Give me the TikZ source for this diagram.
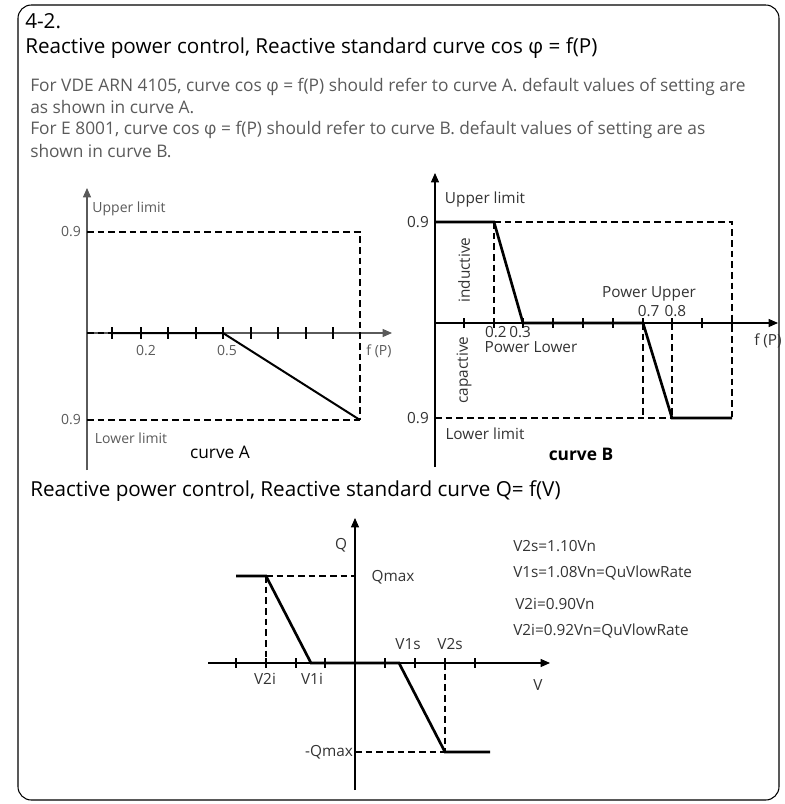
\documentclass[tikz,border=0pt]{standalone}
\usepackage{fontspec}
\setmainfont{Open Sans}
\usetikzlibrary{arrows.meta}
\definecolor{gr}{RGB}{90,90,90}
\begin{document}
\begin{tikzpicture}[x=0.75pt,y=-0.75pt,
 ax/.style={line width=0.8pt,-{Triangle[length=7pt,width=6pt]}},
 dsh/.style={dashed,line width=1pt,dash pattern=on 5pt off 3pt},
 crv/.style={line width=2pt},
 lab/.style={font=\fontsize{10.5}{12}\selectfont,text=gr,inner sep=0pt},
 labb/.style={font=\fontsize{11.5}{13}\selectfont,text=black!80,inner sep=0pt},
 big/.style={font=\fontsize{15.5}{18}\selectfont,inner sep=0pt,anchor=west},
 txt/.style={font=\fontsize{13}{15}\selectfont,text=gr,inner sep=0pt,anchor=west}]
\useasboundingbox (0,0) rectangle (785,804);
\draw[line width=0.8pt,rounded corners=10pt] (18,5) rectangle (779,800);
\node[big] (t0) at (25,21) {4-2.};
\node[big] (t1) at (25,48) {Reactive power control, Reactive standard curve cos φ = f(P)};
\node[txt] (p1) at (30,87) {For VDE ARN 4105, curve cos φ = f(P) should refer to curve A. default values of setting are};
\node[txt] (p2) at (30,107) {as shown in curve A.};
\node[txt] (p3) at (30,130) {For E 8001, curve cos φ = f(P) should refer to curve B. default values of setting are as};
\node[txt] (p4) at (30,151) {shown in curve B.};
% curve A
\draw[ax,gr] (87,470) -- (87,188);
\draw[ax,gr] (87,333) -- (392,333);
\foreach \x in {112,141,168,196,223,251,278,306,333} \draw[line width=0.8pt] (\x,327) -- (\x,339);
\draw[dsh] (87,232) -- (360,232) -- (360,420);
\draw[dsh] (87,420) -- (360,420);
\draw[dsh] (87,333) -- (112,333);
\draw[line width=1.5pt] (112,333) -- (223,333) -- (360,420);
\node[lab] (a1) at (129,209) {Upper limit};
\node[lab] (a2) at (71,232) {0.9};
\node[lab] (a3) at (71,420) {0.9};
\node[lab] (a4) at (146,351) {0.2};
\node[lab] (a5) at (227,351) {0.5};
\node[lab] (a6) at (379,351) {f (P)};
\node[lab] (a7) at (131,438) {Lower limit};
\node[font=\fontsize{13}{15}\selectfont,inner sep=0pt] (a8) at (220,452) {curve A};
% curve B
\draw[ax] (435,467) -- (435,173);
\draw[ax] (435,323) -- (778,323);
\foreach \x in {464,494,523,553,583,613,643,672,702,732} \draw[line width=0.8pt] (\x,318) -- (\x,328);
\draw[dsh] (494,222) -- (732,222) -- (732,418);
\draw[dsh] (435,418) -- (672,418);
\draw[dsh] (494,222) -- (494,323);
\draw[dsh] (643,323) -- (643,418);
\draw[dsh] (672,323) -- (672,418);
\draw[crv] (435,222) -- (494,222) -- (523,323) -- (643,323) -- (672,418) -- (732,418);
\node[labb] (b1) at (485,200) {Upper limit};
\node[labb] (b2) at (418,222) {0.9};
\node[labb] (b3) at (418,418) {0.9};
\node[labb,rotate=90] (b4) at (464,270) {inductive};
\node[labb,rotate=90] (b5) at (464,370) {capactive};
\node[labb] (b6) at (508,332) {0.2\,0.3};
\node[labb] (b7) at (531,347) {Power Lower};
\node[labb] (b8) at (649,294) {Power Upper};
\node[labb] (b9) at (662,311) {0.7\,\,0.8};
\node[labb] (b10) at (768,341) {f (P)};
\node[labb] (b11) at (485,434) {Lower limit};
\node[font=\fontsize{13}{15}\selectfont\bfseries,inner sep=0pt] (b12) at (581,454) {curve B};
% QV
\node[big] (t2) at (30,491) {Reactive power control, Reactive standard curve Q= f(V)};
\draw[ax] (355,790) -- (355,518);
\draw[ax] (208,663) -- (550,663);
\foreach \x in {236,266,296,325,385,415,445,475} \draw[line width=0.8pt] (\x,658) -- (\x,668);
\draw[dsh] (266,576) -- (355,576);
\draw[dsh] (266,576) -- (266,663);
\draw[dsh] (445,663) -- (445,752);
\draw[dsh] (355,752) -- (445,752);
\draw[crv] (236,576) -- (266,576) -- (311,663) -- (399,663) -- (445,752) -- (490,752);
\node[labb] (q1) at (341,545) {Q};
\node[labb] (q2) at (393,577) {Qmax};
\node[labb] (q3) at (265,679) {V2i};
\node[labb] (q4) at (312,679) {V1i};
\node[labb] (q5) at (408,644) {V1s};
\node[labb] (q6) at (450,644) {V2s};
\node[labb] (q7) at (538,685) {V};
\node[labb] (q8) at (329,752) {-Qmax};
\node[labb,anchor=west] (r1) at (513,546) {V2s=1.10Vn};
\node[labb,anchor=west] (r2) at (513,573) {V1s=1.08Vn=QuVlowRate};
\node[labb,anchor=west] (r3) at (515,604) {V2i=0.90Vn};
\node[labb,anchor=west] (r4) at (513,631) {V2i=0.92Vn=QuVlowRate};
\end{tikzpicture}
\end{document}
